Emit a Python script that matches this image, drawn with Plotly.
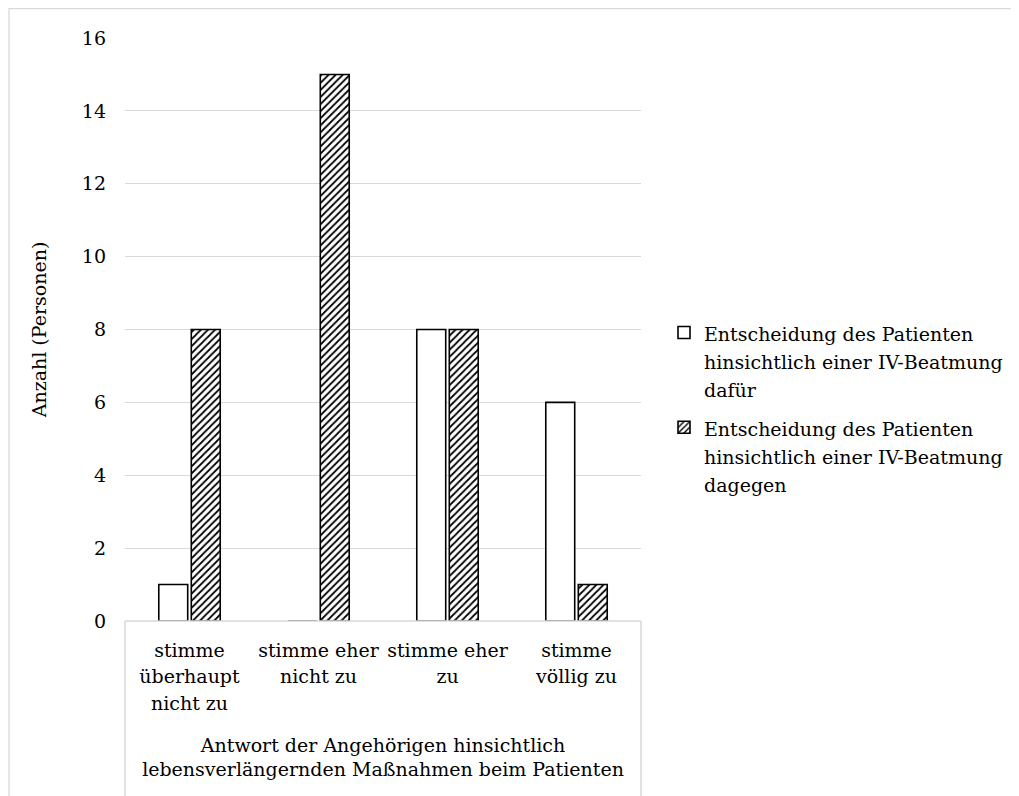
import plotly.graph_objects as go

categories = [
    "stimme<br>überhaupt<br>nicht zu",
    "stimme eher<br>nicht zu",
    "stimme eher<br>zu",
    "stimme<br>völlig zu",
]
dafuer = [1, 0, 8, 6]
dagegen = [8, 15, 8, 1]
series_names = [
    "Entscheidung des Patienten<br>hinsichtlich einer IV-Beatmung<br>dafür",
    "Entscheidung des Patienten<br>hinsichtlich einer IV-Beatmung<br>dagegen",
]
y_ticks = [0, 2, 4, 6, 8, 10, 12, 14, 16]
x_title = "Antwort der Angehörigen hinsichtlich<br>lebensverlängernden Maßnahmen beim Patienten"
y_title = "Anzahl (Personen)"

FONT = "DejaVu Serif"
FS = 19
GRID = "#d9d9d9"


def sized(text, size):
    """Wrap each line in a span so the glyph size differs from the line pitch."""
    return "<br>".join(f'<span style="font-size:{size}px">{ln}</span>' for ln in text.split("<br>"))


fig = go.Figure()
fig.add_trace(go.Bar(
    x=categories, y=dafuer, name=sized(series_names[0], FS), legendgroup="a",
    marker=dict(color="white", line=dict(color="black", width=1.6)),
))
fig.add_trace(go.Bar(
    x=categories, y=dagegen, name=sized(series_names[1], FS), legendgroup="b",
    marker=dict(color="white", line=dict(color="black", width=1.6),
                pattern=dict(shape="/", fgcolor="black", bgcolor="white",
                             size=5, solidity=0.35, fillmode="replace")),
))

# page body has an 8px margin, so the figure is drawn at (8, 8)
OFF = 8
W, H = 1019 - OFF, 796 - OFF
L, R, T, B = 125 - OFF, 1019 - 641, 38 - OFF, 796 - 621
plot_w = W - L - R
plot_h = H - T - B

def px_x(p):
    return (p - OFF - L) / plot_w

def px_y(p):
    return (H - B - (p - OFF)) / plot_h

shapes = [
    dict(type="rect", xref="paper", yref="paper",
         x0=px_x(9), x1=px_x(1040), y0=px_y(820), y1=px_y(8.5),
         line=dict(color=GRID, width=1.3), fillcolor="rgba(0,0,0,0)", layer="below"),
    dict(type="line", xref="paper", yref="paper", x0=0, x1=1, y0=0, y1=0,
         line=dict(color=GRID, width=1.5)),
    dict(type="line", xref="paper", yref="paper", x0=0, x1=0, y0=0, y1=px_y(810),
         line=dict(color=GRID, width=1.5)),
    dict(type="line", xref="paper", yref="paper", x0=1, x1=1, y0=0, y1=px_y(810),
         line=dict(color=GRID, width=1.5)),
]

fig.update_layout(
    width=W, height=H,
    margin=dict(l=L, r=R, t=T, b=B, autoexpand=False),
    paper_bgcolor="white", plot_bgcolor="white",
    font=dict(family=FONT, size=FS, color="black"),
    barmode="group", bargap=0.496, bargroupgap=0.11,
    shapes=shapes,
    legend=dict(
        x=px_x(664), y=px_y(312), xanchor="left", yanchor="top",
        valign="top", itemwidth=30, tracegroupgap=8,
        font=dict(family=FONT, size=21.5, color="black"),
        bgcolor="rgba(0,0,0,0)",
    ),
    showlegend=True,
)
fig.update_xaxes(
    showgrid=False, showline=False, zeroline=False, ticks="", automargin=False,
    tickmode="array", tickvals=categories, ticktext=[sized(c, FS) for c in categories],
    tickfont=dict(family=FONT, size=20.5), ticklabelstandoff=14,
    title=dict(text=x_title, font=dict(family=FONT, size=FS), standoff=25),
)
fig.update_yaxes(
    range=[0, 16], tickvals=y_ticks, showgrid=True, gridcolor=GRID, gridwidth=1.3,
    zeroline=False, showline=False, ticks="", ticklabelstandoff=18, automargin=False,
    tickfont=dict(family=FONT, size=FS),
    title=dict(text=y_title, font=dict(family=FONT, size=FS), standoff=30),
)

fig.write_html("out.html")
